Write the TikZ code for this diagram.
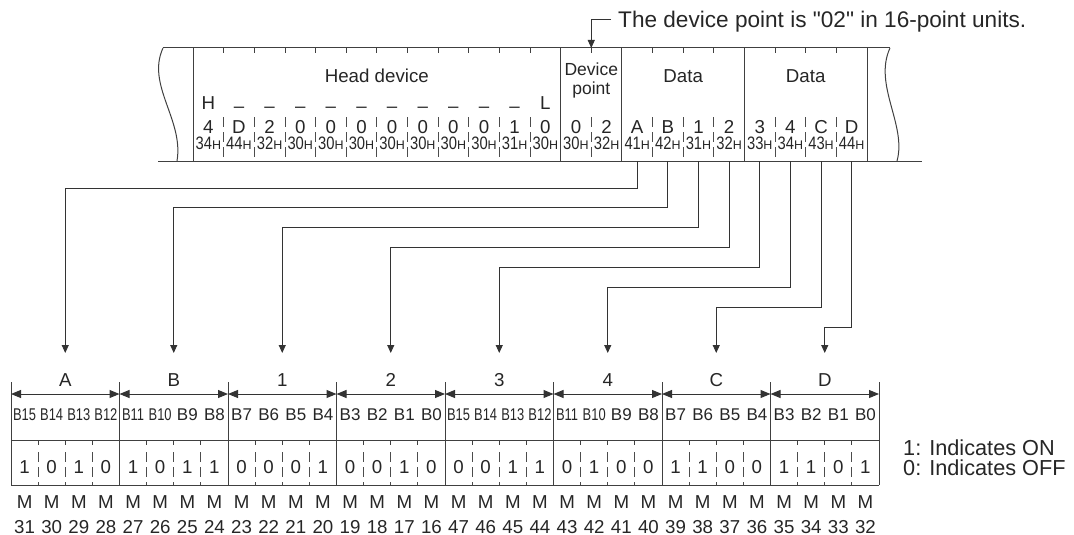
\documentclass[tikz,border=0pt]{standalone}
\usepackage{fontspec}
\setmainfont{Liberation Sans}
\newfontfamily\plainsans{Liberation Sans}
\usetikzlibrary{arrows.meta}

\newcommand{\fsz}[1]{\fontsize{#1}{#1}\selectfont}
% codice esadecimale: cifre strette, H piccola
\newcommand{\hexc}[1]{\scalebox{0.82}[1]{\fsz{18}#1}{\fsz{12.5}H}}

\tikzset{
  txt/.style={inner sep=0pt, anchor=base, font=\fsz{18.7}},
  frm/.style={line width=1pt, draw=black!75},
  tick/.style={line width=0.8pt, draw=black!75},
  sepd/.style={line width=0.8pt, draw=black!70, dash pattern=on 10pt off 5pt},
  wire/.style={line width=1pt, draw=black!80, ->},
}

\begin{document}
\begin{tikzpicture}[x=1pt, y=-1pt, >={Triangle[length=8pt,width=7pt]}, black!85]
\useasboundingbox (0,0) rectangle (1074,535);

% Cornice superiore
\draw[frm] (163,48) -- (890,48);
\draw[frm] (158,161) -- (922,161);
\draw[frm] (163,48) .. controls (146,85) and (184,120) .. (177,161);
\draw[frm] (890,48) .. controls (873,85) and (907,125) .. (897,161);
\foreach \i in {0,12,14,18,22}
  \draw[frm] ({193+30.636*\i},48) -- ({193+30.636*\i},161);
\foreach \i in {1,...,11,13,15,16,17,19,20,21} {
  \draw[tick] ({193+30.636*\i},48) -- ++(0,5);
  \draw[sepd] ({193+30.636*\i},117) -- ({193+30.636*\i},161);
}

% Intestazioni
\node[txt] (hd) at ({193+30.636*6},83) {Head device};
\node[txt, font=\fsz{17.5}] (dp1) at ({193+30.636*13},75) {Device};
\node[txt, font=\fsz{17.5}] (dp2) at ({193+30.636*13},95) {point};
\node[txt] (dat1) at ({193+30.636*16},83) {Data};
\node[txt] (dat2) at ({193+30.636*20},83) {Data};

\node[txt] (hi) at ({193+30.636*0.5},110) {H};
\foreach \i in {1,...,10}
  \node[txt] (ds\i) at ({193+30.636*(\i+0.5)},112) {–};
\node[txt] (lo) at ({193+30.636*11.5},110) {L};

% Caratteri e codici
\foreach \c [count=\i from 0] in {4,D,2,0,0,0,0,0,0,0,1,0,0,2,A,B,1,2,3,4,C,D}
  \node[txt] (ch\i) at ({193+30.636*(\i+0.5)},133) {\c};
\foreach \h [count=\i from 0] in {34,44,32,30,30,30,30,30,30,30,31,30,30,32,41,42,31,32,33,34,43,44}
  \node[txt] (hx\i) at ({193+30.636*(\i+0.5)},149) {\hexc{\h}};

% Nota
\node[txt, anchor=base west, font=\plainsans\fsz{22.6}] (note) at (618,28) {The device point is "02" in 16-point units.};
\coordinate (nt) at (611,20);
\coordinate (dpt) at ({193+30.636*13},48);
\draw[wire] (nt) -| (dpt);

% Blocchi di bit
\foreach \l [count=\b from 0] in {A,B,1,2,3,4,C,D} {
  \pgfmathtruncatemacro\bb{\b+1}
  \node[txt] (blk\b) at ({11+108.5*(\b+0.5)},386) {\l};
  \coordinate (el\b) at ({11+108.5*\b},394);
  \coordinate (er\b) at ({11+108.5*\bb},394);
  \draw[<->, >={Triangle[length=10pt,width=8pt]}, line width=1pt, draw=black!80] (el\b) -- (er\b);
}
\foreach \b in {0,...,8}
  \draw[frm] ({11+108.5*\b},382) -- ({11+108.5*\b},485);
\draw[frm] (11,440) -- (879,440);
\draw[frm] (11,485) -- (879,485);
\foreach \k in {1,2,3,5,6,7,9,10,11,13,14,15,17,18,19,21,22,23,25,26,27,29,30,31} {
  \draw[tick] ({11+27.125*\k},440) -- ++(0,5);
  \draw[sepd] ({11+27.125*\k},452) -- ({11+27.125*\k},485);
}

% Etichette, valori, relè
\foreach \v [count=\k from 0] in {1,0,1,0,1,0,1,1,0,0,0,1,0,0,1,0,0,0,1,1,0,1,0,0,1,1,0,0,1,1,0,1} {
  \pgfmathtruncatemacro\n{15-mod(\k,16)}
  \pgfmathtruncatemacro\m{\k<16 ? 31-\k : 63-\k}
  \node[txt, font=\fsz{17}] (bl\k) at ({11+27.125*(\k+0.5)},420)
    {\ifnum\n>9 \scalebox{0.76}[1]{B\n}\else B\n\fi};
  \node[txt] (bv\k) at ({11+27.125*(\k+0.5)},473) {\v};
  \node[txt] (mm\k) at ({11+27.125*(\k+0.5)},508) {M};
  \node[txt] (mn\k) at ({11+27.125*(\k+0.5)},533) {\m};
}

% Collegamenti
\foreach \k in {0,...,7} {
  \pgfmathtruncatemacro\j{14+\k}
  \coordinate (src\k) at (hx\j.south |- 0,161);
  \coordinate (tgt\k) at ({11+108.5*(\k+0.5)},353);
  \draw[wire] (src\k) -- ++(0,{27+19.86*\k}) -| (tgt\k);
}

% Legenda
\node[txt, anchor=base west, font=\fsz{21.7}] (on) at (903,455) {1: Indicates ON};
\node[txt, anchor=base west, font=\fsz{21.7}] (off) at (903,475) {0: Indicates OFF};

\end{tikzpicture}
\end{document}
